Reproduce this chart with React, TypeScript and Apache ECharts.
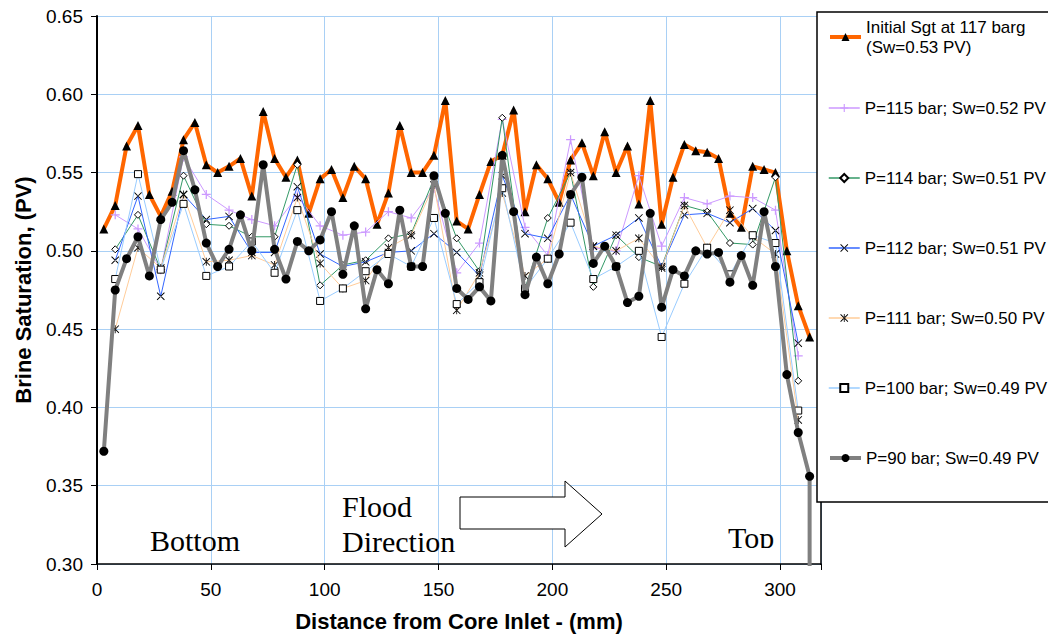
import { useEffect, useRef } from 'react';
import * as echarts from 'echarts';

// Distances (mm) along the core
const distFine = [3, 8, 13, 18, 23, 28, 33, 38, 43, 48, 53, 58, 63, 68, 73, 78, 83, 88, 93, 98, 103, 108, 113, 118, 123, 128, 133, 138, 143, 148, 153, 158, 163, 168, 173, 178, 183, 188, 193, 198, 203, 208, 213, 218, 223, 228, 233, 238, 243, 248, 253, 258, 263, 268, 273, 278, 283, 288, 293, 298, 303, 308, 313];
const distCoarse = [8, 18, 28, 38, 48, 58, 68, 78, 88, 98, 108, 118, 128, 138, 148, 158, 168, 178, 188, 198, 208, 218, 228, 238, 248, 258, 268, 278, 288, 298, 308];
const distP90 = [3, 8, 13, 18, 23, 28, 33, 38, 43, 48, 53, 58, 63, 68, 73, 78, 83, 88, 93, 98, 103, 108, 113, 118, 123, 128, 133, 138, 143, 148, 153, 158, 163, 168, 173, 178, 183, 188, 193, 198, 203, 208, 213, 218, 223, 228, 233, 238, 243, 248, 253, 258, 263, 268, 273, 278, 283, 288, 293, 298, 303, 308, 313, 313];

// Brine saturation (PV)
const initialSgt = [0.514, 0.529, 0.567, 0.580, 0.536, 0.522, 0.538, 0.571, 0.582, 0.555, 0.550, 0.554, 0.559, 0.535, 0.589, 0.559, 0.547, 0.558, 0.524, 0.546, 0.552, 0.534, 0.554, 0.546, 0.517, 0.537, 0.580, 0.550, 0.550, 0.561, 0.596, 0.519, 0.514, 0.536, 0.557, 0.561, 0.590, 0.525, 0.555, 0.546, 0.531, 0.558, 0.569, 0.548, 0.576, 0.550, 0.567, 0.530, 0.596, 0.517, 0.547, 0.568, 0.564, 0.563, 0.559, 0.524, 0.515, 0.554, 0.552, 0.550, 0.500, 0.465, 0.445];
const p115 = [0.523, 0.514, 0.488, 0.560, 0.536, 0.526, 0.520, 0.516, 0.535, 0.516, 0.510, 0.512, 0.525, 0.521, 0.540, 0.486, 0.505, 0.584, 0.515, 0.497, 0.571, 0.502, 0.500, 0.548, 0.503, 0.534, 0.530, 0.535, 0.534, 0.526, 0.433];
const p114 = [0.501, 0.523, 0.488, 0.548, 0.517, 0.516, 0.509, 0.509, 0.555, 0.478, 0.491, 0.494, 0.508, 0.511, 0.546, 0.508, 0.487, 0.585, 0.476, 0.521, 0.550, 0.477, 0.510, 0.496, 0.490, 0.529, 0.525, 0.505, 0.504, 0.547, 0.417];
const p112 = [0.494, 0.535, 0.471, 0.536, 0.520, 0.522, 0.499, 0.499, 0.541, 0.498, 0.490, 0.493, 0.499, 0.500, 0.511, 0.499, 0.484, 0.548, 0.511, 0.508, 0.536, 0.503, 0.510, 0.521, 0.490, 0.523, 0.524, 0.518, 0.527, 0.513, 0.441];
const p111 = [0.450, 0.502, 0.489, 0.536, 0.493, 0.494, 0.497, 0.491, 0.534, 0.492, 0.476, 0.481, 0.502, 0.510, 0.542, 0.462, 0.486, 0.537, 0.484, 0.495, 0.550, 0.503, 0.500, 0.508, 0.489, 0.529, 0.502, 0.526, 0.509, 0.498, 0.392];
const p100 = [0.482, 0.549, 0.488, 0.530, 0.484, 0.490, 0.506, 0.486, 0.526, 0.468, 0.476, 0.487, 0.498, 0.490, 0.521, 0.466, 0.480, 0.540, 0.476, 0.495, 0.518, 0.482, 0.490, 0.500, 0.445, 0.479, 0.502, 0.485, 0.510, 0.505, 0.398];
const p90 = [0.372, 0.475, 0.495, 0.509, 0.484, 0.520, 0.531, 0.564, 0.539, 0.505, 0.490, 0.501, 0.523, 0.500, 0.555, 0.501, 0.482, 0.506, 0.500, 0.507, 0.525, 0.485, 0.516, 0.463, 0.488, 0.479, 0.526, 0.490, 0.490, 0.548, 0.524, 0.476, 0.469, 0.477, 0.468, 0.561, 0.525, 0.472, 0.496, 0.479, 0.498, 0.536, 0.547, 0.492, 0.503, 0.490, 0.467, 0.471, 0.524, 0.464, 0.488, 0.484, 0.500, 0.498, 0.499, 0.480, 0.497, 0.478, 0.525, 0.490, 0.421, 0.384, 0.356, 0.200];

const seriesNames = [
  'Initial Sgt at 117 barg\n(Sw=0.53 PV)',
  'P=115 bar; Sw=0.52 PV',
  'P=114 bar; Sw=0.51 PV',
  'P=112 bar; Sw=0.51 PV',
  'P=111 bar; Sw=0.50 PV',
  'P=100 bar; Sw=0.49 PV',
  'P=90 bar; Sw=0.49 PV',
];
const annotations = ['Bottom', 'Flood', 'Direction', 'Top'];
const xTitle = 'Distance from Core Inlet - (mm)';
const yTitle = 'Brine Saturation, (PV)';

const SANS = 'Arial, "Liberation Sans", sans-serif';
const SERIF = '"Times New Roman", "Liberation Serif", serif';

const PLUS = 'path://M4.3,0H5.7V4.3H10V5.7H5.7V10H4.3V5.7H0V4.3H4.3Z';
const CROSS = 'path://M0,0.8L0.8,0L10,9.2L9.2,10ZM10,0.8L9.2,0L0,9.2L0.8,10Z';
const STAR = 'path://M0,0.8L0.8,0L10,9.2L9.2,10ZM10,0.8L9.2,0L0,9.2L0.8,10ZM4.5,0H5.5V10H4.5Z';

const zip = (xs: number[], ys: number[]) => xs.map((x, i) => [x, ys[i]]);

export default function App() {
  const ref = useRef<HTMLDivElement>(null);
  useEffect(() => {
    if (!ref.current) return;
    const chart = echarts.init(ref.current, undefined, { renderer: 'svg' });

    const styles = [
      { data: zip(distFine, initialSgt), color: '#FF6600', width: 4, symbol: 'triangle', size: 9, item: { color: '#000' } },
      { data: zip(distCoarse, p115), color: '#CC99FF', width: 1, symbol: PLUS, size: 9, item: { color: '#CC99FF' } },
      { data: zip(distCoarse, p114), color: '#339966', width: 1, symbol: 'diamond', size: 7, item: { color: '#fff', borderColor: '#000', borderWidth: 1 } },
      { data: zip(distCoarse, p112), color: '#3366FF', width: 1, symbol: CROSS, size: 8, item: { color: '#000' } },
      { data: zip(distCoarse, p111), color: '#FFCC99', width: 1, symbol: STAR, size: 8, item: { color: '#000' } },
      { data: zip(distCoarse, p100), color: '#99CCFF', width: 1, symbol: 'rect', size: 7, item: { color: '#fff', borderColor: '#000', borderWidth: 1 } },
      { data: zip(distP90, p90), color: '#808080', width: 4, symbol: 'circle', size: 9, item: { color: '#000' } },
    ];

    const series = styles.map((s, i) => ({
      type: 'line',
      name: seriesNames[i],
      data: s.data,
      symbol: s.symbol,
      symbolSize: s.size,
      showAllSymbol: true,
      clip: true,
      lineStyle: { color: s.color, width: s.width },
      itemStyle: s.item,
      emphasis: { disabled: true },
      z: 2 + i,
    }));

    const legendCenters = [37, 108, 178, 248, 318, 388, 458];
    const legends = seriesNames.map((n, i) => ({
      data: [n],
      left: 828,
      top: i === 0 ? legendCenters[0] - 30 : legendCenters[i] - 10,
      orient: 'vertical',
      padding: 0,
      itemGap: 0,
      itemWidth: 31,
      itemHeight: 10,
      selectedMode: false,
      z: 200,
      lineStyle: { width: styles[i].width === 4 ? 4 : 1.5 },
      textStyle: {
        fontFamily: SANS,
        fontSize: 17,
        color: '#000',
        lineHeight: 20,
        padding: i === 0 ? [20, 0, 0, 0] : 0,
      },
    }));

    chart.setOption({
      animation: false,
      backgroundColor: '#fff',
      textStyle: { fontFamily: SANS },
      grid: { left: 97, right: 227, top: 16, bottom: 75, containLabel: false },
      xAxis: {
        type: 'value',
        min: 0,
        max: 318,
        interval: 50,
        name: xTitle,
        nameLocation: 'middle',
        nameGap: 46,
        nameTextStyle: { fontFamily: SANS, fontWeight: 'bold', fontSize: 22, color: '#000' },
        axisLine: { lineStyle: { color: '#000', width: 1.5 } },
        axisTick: { show: true, length: 6, lineStyle: { color: '#000' } },
        axisLabel: {
          color: '#000',
          fontSize: 19,
          fontFamily: SANS,
          margin: 16,
          formatter: (v: number) => (v % 50 === 0 ? String(v) : ''),
        },
        splitLine: { show: true, lineStyle: { color: '#a9d0f5', width: 1 } },
      },
      yAxis: {
        type: 'value',
        min: 0.3,
        max: 0.65,
        interval: 0.05,
        name: yTitle,
        nameLocation: 'middle',
        nameGap: 63,
        nameTextStyle: { fontFamily: SANS, fontWeight: 'bold', fontSize: 22, color: '#000' },
        axisLine: { show: true, lineStyle: { color: '#000', width: 2 } },
        axisTick: { show: true, length: 6, lineStyle: { color: '#000' } },
        axisLabel: {
          color: '#000',
          fontSize: 19,
          fontFamily: SANS,
          margin: 14,
          formatter: (v: number) => v.toFixed(2),
        },
        splitLine: { show: true, lineStyle: { color: '#a9d0f5', width: 1 } },
      },
      legend: legends,
      series,
      graphic: [
        {
          type: 'text', z: 50, x: 150, y: 540,
          style: { text: annotations[0], font: `30px ${SERIF}`, fill: '#000', verticalAlign: 'middle' },
        },
        {
          type: 'text', z: 50, x: 342, y: 506,
          style: { text: annotations[1], font: `30px ${SERIF}`, fill: '#000', verticalAlign: 'middle' },
        },
        {
          type: 'text', z: 50, x: 342, y: 541,
          style: { text: annotations[2], font: `30px ${SERIF}`, fill: '#000', verticalAlign: 'middle' },
        },
        {
          type: 'text', z: 50, x: 728, y: 537,
          style: { text: annotations[3], font: `30px ${SERIF}`, fill: '#000', verticalAlign: 'middle' },
        },
        {
          type: 'rect', z: 51, shape: { x: 724, y: 548, width: 53, height: 15 },
          style: { fill: '#fff' },
        },
        {
          type: 'polygon', z: 50,
          shape: { points: [[460, 497], [565, 497], [565, 481], [602, 514], [565, 547], [565, 529], [460, 529]] },
          style: { fill: '#fff', stroke: '#000', lineWidth: 1 },
        },
        {
          type: 'line', z: 100,
          shape: { x1: 821, y1: 502, x2: 821, y2: 565 },
          style: { stroke: '#000', lineWidth: 1.5 },
        },
        {
          type: 'rect', z: 100,
          shape: { x: 817, y: 12, width: 260, height: 490 },
          style: { fill: '#fff', stroke: '#000', lineWidth: 1.5 },
        },
      ],
    });
    return () => chart.dispose();
  }, []);
  return (
    <div
      ref={ref}
      style={{ position: 'fixed', left: 0, top: 0, width: 1048, height: 639, background: '#fff' }}
    />
  );
}
